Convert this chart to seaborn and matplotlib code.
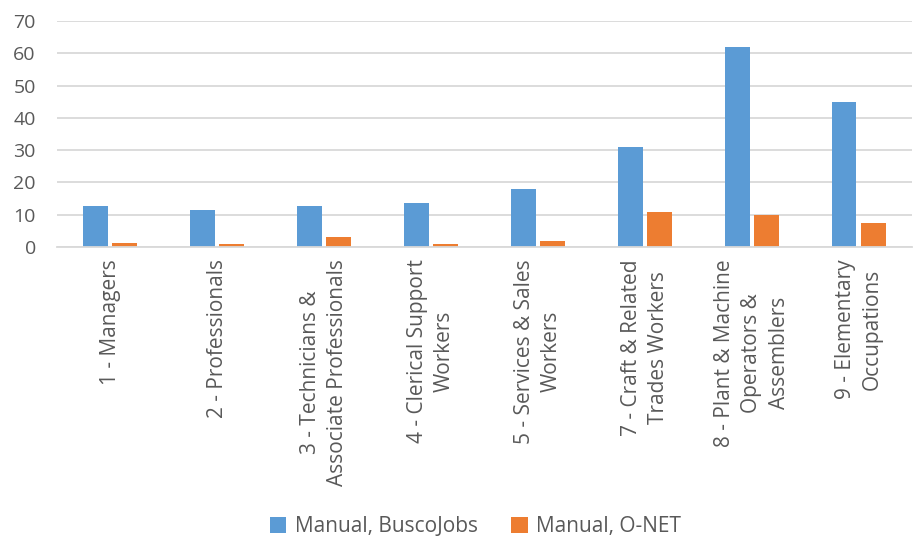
import pandas as pd
import matplotlib
matplotlib.use("Agg")
import matplotlib.pyplot as plt
import seaborn as sns

# Data
categories = [
    "1 - Managers",
    "2 - Professionals",
    "3 - Technicians &\nAssociate Professionals",
    "4 - Clerical Support\nWorkers",
    "5 - Services & Sales\nWorkers",
    "7 - Craft & Related\nTrades Workers",
    "8 - Plant & Machine\nOperators &\nAssemblers",
    "9 - Elementary\nOccupations",
]
buscojobs = [12.8, 11.5, 12.7, 13.5, 17.9, 31.0, 62.0, 44.9]
onet = [1.1, 0.9, 3.1, 1.0, 1.9, 10.7, 9.9, 7.3]

series_names = ["Manual, BuscoJobs", "Manual, O-NET"]

df = pd.DataFrame({
    "category": categories * 2,
    "value": buscojobs + onet,
    "series": [series_names[0]] * len(categories) + [series_names[1]] * len(categories),
})

sns.set_theme(style="white")
plt.rcParams["font.family"] = ["Open Sans", "DejaVu Sans"]
text_color = "#595959"

fig = plt.figure(figsize=(9.14, 5.4), dpi=100)
ax = fig.add_axes([0.062, 0.543, 0.936, 0.418])

sns.barplot(data=df, x="category", y="value", hue="series",
            palette=["#5B9BD5", "#ED7D31"], saturation=1, width=0.55, gap=0.15,
            edgecolor="none", ax=ax)

ax.set_ylim(0, 70)
ax.set_yticks(range(0, 71, 10))
ax.set_xlim(-0.5, len(categories) - 0.5)
ax.yaxis.grid(True, color="#d9d9d9", linewidth=1.3)
ax.set_axisbelow(True)
for s in ["top", "right", "left"]:
    ax.spines[s].set_visible(False)
ax.spines["bottom"].set_color("#d9d9d9")
ax.spines["bottom"].set_linewidth(1.3)

ax.set_xlabel("")
ax.set_ylabel("")
ax.tick_params(axis="y", labelsize=14, labelcolor=text_color, length=0, pad=15)
ax.tick_params(axis="x", labelsize=15, labelcolor=text_color, length=0, pad=9)
for lbl in ax.get_xticklabels():
    lbl.set_rotation(90)
    lbl.set_ha("center")
    lbl.set_va("top")
    lbl.set_multialignment("center")
    lbl.set_linespacing(1.4)

leg = ax.legend(loc="center", bbox_to_anchor=(0.52, 0.025), bbox_transform=fig.transFigure,
                ncol=2, frameon=False, fontsize=15, handlelength=0.8, handleheight=0.8,
                columnspacing=1.6, handletextpad=0.4)
for t in leg.get_texts():
    t.set_color(text_color)

fig.savefig("out.png", dpi=100)
